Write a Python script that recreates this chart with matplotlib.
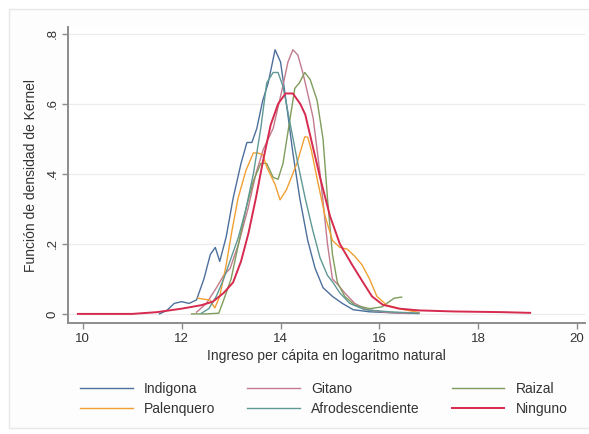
import matplotlib
matplotlib.use("Agg")
import matplotlib.pyplot as plt
from matplotlib.patches import Rectangle

plt.rcParams['font.family'] = ['Liberation Sans', 'DejaVu Sans']

# Kernel density estimates of log per-capita income by ethnic group
indigena_x = [11.55, 11.7, 11.85, 12.0, 12.15, 12.3, 12.45, 12.58, 12.68, 12.77, 12.9, 13.04, 13.2,
              13.32, 13.42, 13.52, 13.64, 13.75, 13.89, 14.0, 14.12, 14.25, 14.39, 14.55, 14.7,
              14.86, 15.05, 15.25, 15.47, 15.8, 16.3, 16.8]
indigena_y = [0.0, 0.01, 0.03, 0.035, 0.03, 0.04, 0.1, 0.17, 0.19, 0.15, 0.22, 0.33, 0.43,
              0.49, 0.49, 0.53, 0.61, 0.66, 0.755, 0.72, 0.6, 0.46, 0.33, 0.21, 0.13,
              0.075, 0.05, 0.03, 0.012, 0.006, 0.003, 0.001]

gitano_x = [12.3, 12.5, 12.7, 12.85, 12.98, 13.15, 13.34, 13.5, 13.65, 13.85, 14.03, 14.15,
            14.25, 14.35, 14.45, 14.55, 14.66, 14.8, 14.95, 15.05, 15.15, 15.3, 15.5, 15.75,
            16.1, 16.6]
gitano_y = [0.005, 0.03, 0.074, 0.11, 0.13, 0.2, 0.3, 0.4, 0.47, 0.53, 0.64, 0.72,
            0.755, 0.74, 0.69, 0.63, 0.56, 0.4, 0.2, 0.1, 0.085, 0.06, 0.03, 0.012,
            0.005, 0.001]

raizal_x = [12.2, 12.5, 12.75, 12.85, 13.0, 13.15, 13.3, 13.45, 13.6, 13.72, 13.85, 13.95,
            14.05, 14.15, 14.29, 14.38, 14.49, 14.6, 14.74, 14.86, 14.95, 15.05, 15.15,
            15.3, 15.5, 15.8, 16.05, 16.2, 16.3, 16.45]
raizal_y = [0.0, 0.0, 0.002, 0.04, 0.1, 0.2, 0.3, 0.38, 0.43, 0.43, 0.39, 0.385,
            0.43, 0.52, 0.645, 0.66, 0.69, 0.67, 0.61, 0.5, 0.33, 0.17, 0.09,
            0.05, 0.025, 0.015, 0.02, 0.035, 0.045, 0.048]

palenquero_x = [12.33, 12.45, 12.57, 12.67, 12.77, 12.9, 13.02, 13.14, 13.3, 13.45, 13.54,
                13.64, 13.72, 13.89, 13.99, 14.12, 14.33, 14.49, 14.55, 14.62, 14.75, 14.9,
                15.05, 15.2, 15.35, 15.5, 15.65, 15.8, 15.95, 16.15, 16.5, 16.8]
palenquero_y = [0.045, 0.042, 0.04, 0.017, 0.05, 0.14, 0.24, 0.33, 0.41, 0.46, 0.46,
                0.455, 0.42, 0.37, 0.326, 0.355, 0.43, 0.506, 0.505, 0.47, 0.38, 0.28,
                0.21, 0.19, 0.185, 0.165, 0.14, 0.1, 0.05, 0.025, 0.012, 0.004]

afro_x = [12.4, 12.55, 12.7, 12.85, 13.0, 13.15, 13.3, 13.45, 13.6, 13.72, 13.85, 13.95,
          14.05, 14.2, 14.35, 14.5, 14.65, 14.8, 14.95, 15.06, 15.2, 15.4, 15.7, 16.2, 16.8]
afro_y = [0.002, 0.015, 0.05, 0.1, 0.16, 0.22, 0.3, 0.4, 0.53, 0.66, 0.69, 0.69,
          0.65, 0.54, 0.43, 0.33, 0.24, 0.16, 0.11, 0.09, 0.06, 0.03, 0.012, 0.006, 0.002]

ninguno_x = [9.9, 11.0, 11.5, 12.0, 12.4, 12.63, 12.85, 13.04, 13.2, 13.35, 13.5, 13.65, 13.8,
             13.95, 14.1, 14.25, 14.4, 14.5, 14.6, 14.8, 15.0, 15.2, 15.45, 15.67, 15.85,
             16.07, 16.4, 16.8, 17.5, 18.5, 19.05]
ninguno_y = [0.0, 0.0, 0.005, 0.015, 0.025, 0.035, 0.06, 0.09, 0.15, 0.23, 0.33, 0.44, 0.54,
             0.6, 0.63, 0.63, 0.6, 0.57, 0.51, 0.39, 0.28, 0.2, 0.14, 0.09, 0.05,
             0.026, 0.015, 0.01, 0.007, 0.005, 0.003]

series = [
    ("Indigona", indigena_x, indigena_y, "#4d6f9c", 1.0),
    ("Gitano", gitano_x, gitano_y, "#c27a8e", 1.0),
    ("Raizal", raizal_x, raizal_y, "#7f9c5c", 1.0),
    ("Palenquero", palenquero_x, palenquero_y, "#f0a033", 1.0),
    ("Afrodescendiente", afro_x, afro_y, "#5f9894", 1.0),
    ("Ninguno", ninguno_x, ninguno_y, "#d62a4e", 1.4),
]

x_ticks = [10, 12, 14, 16, 18, 20]
y_ticks = [0, 0.2, 0.4, 0.6, 0.8]
y_tick_labels = ["0", ".2", ".4", ".6", ".8"]

W, H = 589, 434
fig = plt.figure(figsize=(W / 100, H / 100), dpi=100)
fig.patch.set_facecolor("white")
fig.patches.append(Rectangle((9 / W, 6 / H), 1, 1 - 15 / H, transform=fig.transFigure,
                             facecolor="#fdfdfd", edgecolor="#e8e8e8", lw=1.0, zorder=-10))

ax = fig.add_axes([68 / W, 1 - 323 / H, (585 - 68) / W, (323 - 27) / H])
ax.set_zorder(1)
ax.set_facecolor("white")

lines = {}
for name, xs, ys, col, lw in series:
    ln, = ax.plot(xs, ys, color=col, lw=lw, label=name, solid_joinstyle="round",
                  zorder=5 if name == "Ninguno" else 3)
    lines[name] = ln

ax.set_xlim(9.70, 20.16)
ax.set_ylim(-0.026, 0.82)
ax.set_xticks(x_ticks)
ax.set_yticks(y_ticks)
ax.set_yticklabels(y_tick_labels, rotation=90, va="center")
ax.grid(axis="y", color="#ececec", lw=0.9)
ax.set_axisbelow(True)

for s in ["top", "right"]:
    ax.spines[s].set_visible(False)
for s in ["left", "bottom"]:
    ax.spines[s].set_color("#8c8c8c")
    ax.spines[s].set_linewidth(1.4)
ax.tick_params(axis="both", direction="out", length=4, width=1.0, color="#8c8c8c",
               labelcolor="#333333", labelsize=9.5, pad=3)

ax.set_xlabel("Ingreso per cápita en logaritmo natural", fontsize=10, color="#333333", labelpad=3)
ax.set_ylabel("Función de densidad de Kernel", fontsize=10, color="#333333", labelpad=6)

order = ["Indigona", "Palenquero", "Gitano", "Afrodescendiente", "Raizal", "Ninguno"]
handles = [lines[n] for n in order]
fig.legend(handles, order, ncol=3, loc="upper left", bbox_to_anchor=(80 / W, 1 - 382 / H),
           frameon=False, fontsize=10, handlelength=3.8, handletextpad=0.8,
           columnspacing=2.3, labelspacing=0.4, borderpad=0, borderaxespad=0,
           labelcolor="#333333")

fig.savefig("out.png", dpi=100)
